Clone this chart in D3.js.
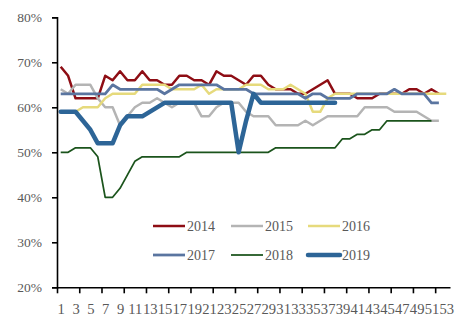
<!DOCTYPE html>
<html><head><meta charset="utf-8">
<script src="https://cdn.jsdelivr.net/npm/d3@7/dist/d3.min.js"></script>
<style>
html,body{margin:0;padding:0;background:#fff;}
svg{display:block;}
text{font-family:"Liberation Serif","Times New Roman",serif;}
</style></head>
<body><svg id="c" width="474" height="329"></svg>
<script>
const weeks = d3.range(1, 54);
const yTicks = [0.2, 0.3, 0.4, 0.5, 0.6, 0.7, 0.8];
const seriesNames = ["2014", "2015", "2016", "2017", "2018", "2019"];
const s2014 = [69,67,62,62,62,62,67,66,68,66,66,68,66,66,65,65,67,67,66,66,65,68,67,67,66,65,67,67,65,64,64,64,63,63,64,65,66,63,63,63,62,62,62,63,63,63,63,64,64,63,64,63];
const s2015 = [64,63,65,65,65,62,60,60,56,58,60,61,61,62,61,60,61,61,61,58,58,60,61,61,61,59,58,58,58,56,56,56,56,57,56,57,58,58,58,58,58,60,60,60,60,59,59,59,59,58,57,57];
const s2016 = [59,59,59,60,60,60,62,63,63,63,63,65,65,65,65,64,64,64,64,65,63,64,64,64,64,65,65,65,64,64,64,65,64,63,59,59,62,63,63,63,63,63,63,63,63,63,63,63,63,63,63,63,63];
const s2017 = [63,63,63,63,63,63,63,65,64,64,64,64,64,64,63,64,65,65,65,65,65,65,64,64,64,64,63,63,63,63,63,63,63,62,63,63,62,62,62,62,63,63,63,63,63,64,63,63,63,63,61,61];
const s2018 = [50,50,51,51,51,49,40,40,42,45,48,49,49,49,49,49,49,50,50,50,50,50,50,50,50,50,50,50,50,51,51,51,51,51,51,51,51,51,53,53,54,54,55,55,57,57,57,57,57,57,57];
const s2019 = [59,59,59,57,55,52,52,52,56,58,58,58,59,60,61,61,61,61,61,61,61,61,61,61,50,57,63,61,61,61,61,61,61,61,61,61,61,61];

const seriesData = [s2014, s2015, s2016, s2017, s2018, s2019];
const colors = ["#8e0d14", "#b4b4b4", "#e6da7c", "#5a75a0", "#1b541c", "#2d6597"];
const widths = [2.5, 2.5, 2.5, 2.75, 1.75, 4.5];

const svg = d3.select("#c");
const L = 57, R = 450, T = 17.3, B = 287.3;
const x = d3.scaleLinear().domain([0, weeks.length]).range([L, R]);
const y = d3.scaleLinear().domain([0.2, 0.8]).range([B, T]);
const textCol = "#595959";

// lines
const line = d3.line().x((d, i) => x(i + 0.5)).y(d => y(d / 100)).curve(d3.curveLinear);
seriesData.forEach((s, k) => {
  svg.append("path").datum(s).attr("d", line)
    .attr("fill", "none").attr("stroke", colors[k]).attr("stroke-width", widths[k])
    .attr("stroke-linejoin", "round").attr("stroke-linecap", k === 5 ? "round" : "butt");
});

// y axis
const ya = svg.append("g").attr("transform", `translate(${L},0)`)
  .call(d3.axisLeft(y).tickValues(yTicks).tickFormat(d3.format(".0%")).tickSize(5).tickPadding(10));
ya.select(".domain").attr("stroke", "#000").attr("stroke-width", 1.6);
ya.selectAll(".tick line").attr("stroke", "#000").attr("stroke-width", 1.6);
ya.selectAll("text").attr("fill", textCol).style("font-size", "13.5px").style("font-family", '"Liberation Serif",serif');

// x axis: tick marks every 3 weeks at category boundaries
const xa = svg.append("g").attr("transform", `translate(0,${B})`)
  .call(d3.axisBottom(x).tickValues(d3.range(0, weeks.length, 3)).tickFormat("").tickSize(6).tickSizeOuter(0));
xa.select(".domain").attr("stroke", "#000").attr("stroke-width", 1.6);
xa.selectAll(".tick line").attr("stroke", "#000").attr("stroke-width", 1.6);

// x labels every 2 weeks at category centers
const xl = svg.append("g").attr("transform", `translate(0,${B})`)
  .call(d3.axisBottom(x).tickValues(weeks.filter((w, i) => i % 2 === 0).map(w => w - 0.5))
    .tickFormat(d => String(d + 0.5)).tickSize(0).tickPadding(16));
xl.select(".domain").remove();
xl.selectAll("text").attr("fill", textCol).style("font-size", "14.6px").style("font-family", '"Liberation Serif",serif');

// legend
const legX = [153, 231, 308], legY = [226, 255];
seriesNames.forEach((n, k) => {
  const gx = legX[k % 3], gy = legY[Math.floor(k / 3)];
  const g = svg.append("g").attr("transform", `translate(${gx},${gy})`);
  g.append("line").attr("x1", 0).attr("x2", 32).attr("y1", 0).attr("y2", 0)
    .attr("stroke", colors[k]).attr("stroke-width", k === 5 ? 4.5 : widths[k])
    .attr("stroke-linecap", k === 5 ? "round" : "butt");
  g.append("text").attr("x", 34).attr("y", 0).attr("dy", "0.35em")
    .attr("fill", textCol).style("font-size", "14px").text(n);
});
</script></body></html>
